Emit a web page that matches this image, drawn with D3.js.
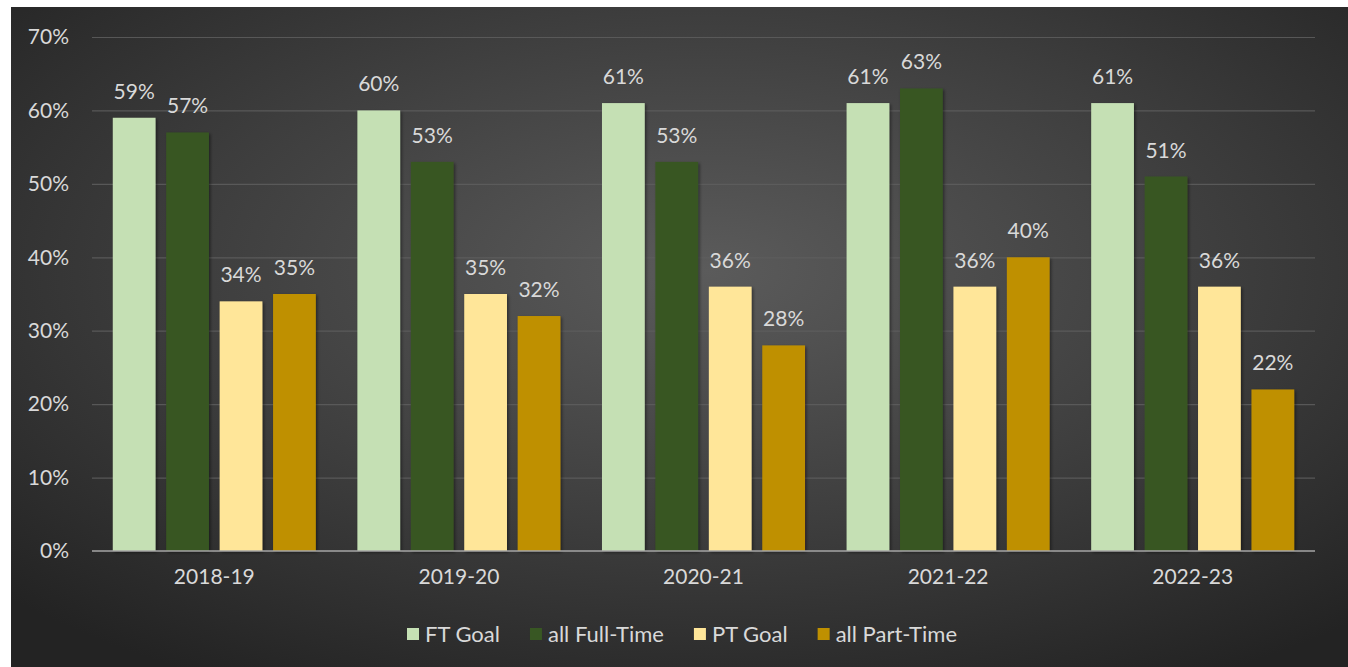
<!DOCTYPE html>
<html>
<head>
<meta charset="utf-8">
<script src="https://cdn.jsdelivr.net/npm/d3@7"></script>
<style>
  body { margin: 0; background: #fff; }
  svg text { font-family: Lato, "Open Sans", sans-serif; fill: #d9d9d9; }
</style>
</head>
<body>
<script>
// chart values
const years = ["2018-19", "2019-20", "2020-21", "2021-22", "2022-23"];
const seriesNames = ["FT Goal", "all Full-Time", "PT Goal", "all Part-Time"];
const ftGoal = [59, 60, 61, 61, 61];
const allFullTime = [57, 53, 53, 63, 51];
const ptGoal = [34, 35, 36, 36, 36];
const allPartTime = [35, 32, 28, 40, 22];
const yTicks = [0, 10, 20, 30, 40, 50, 60, 70];

const colors = ["#c5e0b4", "#385723", "#ffe699", "#bf9000"];
const seriesValues = [ftGoal, allFullTime, ptGoal, allPartTime];

const width = 1348, height = 667;
const margin = {top: 37, right: 33, bottom: 116, left: 92};

const svg = d3.select("body").append("svg")
    .attr("width", width)
    .attr("height", height);

const defs = svg.append("defs");
const grad = defs.append("radialGradient")
    .attr("id", "bg")
    .attr("cx", "52%").attr("cy", "40%").attr("r", "72%");
grad.append("stop").attr("offset", "0%").attr("stop-color", "#5b5b5b");
grad.append("stop").attr("offset", "55%").attr("stop-color", "#3d3d3d");
grad.append("stop").attr("offset", "100%").attr("stop-color", "#232323");

const shadow = defs.append("filter").attr("id", "shadow")
    .attr("x", "-20%").attr("y", "-5%").attr("width", "140%").attr("height", "110%");
shadow.append("feDropShadow")
    .attr("dx", 1.5).attr("dy", 1.5).attr("stdDeviation", 1.5)
    .attr("flood-color", "#000").attr("flood-opacity", 0.45);

// background frame
svg.append("rect")
    .attr("x", 11).attr("y", 7)
    .attr("width", width - 11).attr("height", height - 7)
    .attr("fill", "url(#bg)");

const x0 = d3.scaleBand()
    .domain(years)
    .range([margin.left, width - margin.right])
    .paddingInner(0.17)
    .paddingOuter(0.085);

const x1 = d3.scaleBand()
    .domain(seriesNames)
    .range([0, x0.bandwidth()])
    .paddingInner(0.2);

const y = d3.scaleLinear()
    .domain([0, 70])
    .range([height - margin.bottom, margin.top]);

// gridlines + y labels
const yAxis = svg.append("g")
    .attr("transform", `translate(${margin.left},0)`)
    .call(d3.axisLeft(y).tickValues(yTicks)
        .tickSize(-(width - margin.left - margin.right))
        .tickPadding(23)
        .tickFormat(d => d + "%"));
yAxis.select(".domain").remove();
yAxis.selectAll(".tick line")
    .attr("stroke", "#5e5e5e")
    .attr("stroke-width", 1.2)
    .attr("stroke-opacity", d => d === 0 ? 0 : 0.85);
yAxis.selectAll(".tick text")
    .attr("font-size", 21)
    .attr("fill", "#d9d9d9");

// bars
const groups = svg.append("g").selectAll("g")
    .data(years)
    .enter()
    .append("g")
    .attr("transform", d => `translate(${x0(d)},0)`);

groups.selectAll("rect")
    .data((d, i) => seriesNames.map((s, j) => ({s: s, v: seriesValues[j][i], j: j})))
    .enter()
    .append("rect")
    .attr("x", d => x1(d.s))
    .attr("y", d => y(d.v))
    .attr("width", x1.bandwidth())
    .attr("height", d => y(0) - y(d.v))
    .attr("fill", d => colors[d.j])
    .attr("filter", "url(#shadow)");

groups.selectAll("text")
    .data((d, i) => seriesNames.map((s, j) => ({s: s, v: seriesValues[j][i]})))
    .enter()
    .append("text")
    .attr("x", d => x1(d.s) + x1.bandwidth() / 2)
    .attr("y", d => y(d.v) - 19)
    .attr("text-anchor", "middle")
    .attr("font-size", 21)
    .text(d => d.v + "%");

// baseline
svg.append("line")
    .attr("x1", margin.left).attr("x2", width - margin.right)
    .attr("y1", y(0)).attr("y2", y(0))
    .attr("stroke", "#a6a6a6")
    .attr("stroke-width", 1.5);

// x labels
const xAxis = svg.append("g")
    .attr("transform", `translate(0,${y(0)})`)
    .call(d3.axisBottom(x0).tickSize(0).tickPadding(18));
xAxis.select(".domain").remove();
xAxis.selectAll(".tick text")
    .attr("font-size", 21)
    .attr("fill", "#d9d9d9");

// legend
const legend = svg.append("g").attr("transform", "translate(407,634)");
let lx = 0;
seriesNames.forEach((name, i) => {
    const item = legend.append("g").attr("transform", `translate(${lx},0)`);
    item.append("rect")
        .attr("x", 0).attr("y", -6)
        .attr("width", 12).attr("height", 12)
        .attr("fill", colors[i]);
    const t = item.append("text")
        .attr("x", 18).attr("y", 8)
        .attr("font-size", 22)
        .text(name);
    lx += 18 + t.node().getComputedTextLength() + 30;
});
</script>
</body>
</html>
